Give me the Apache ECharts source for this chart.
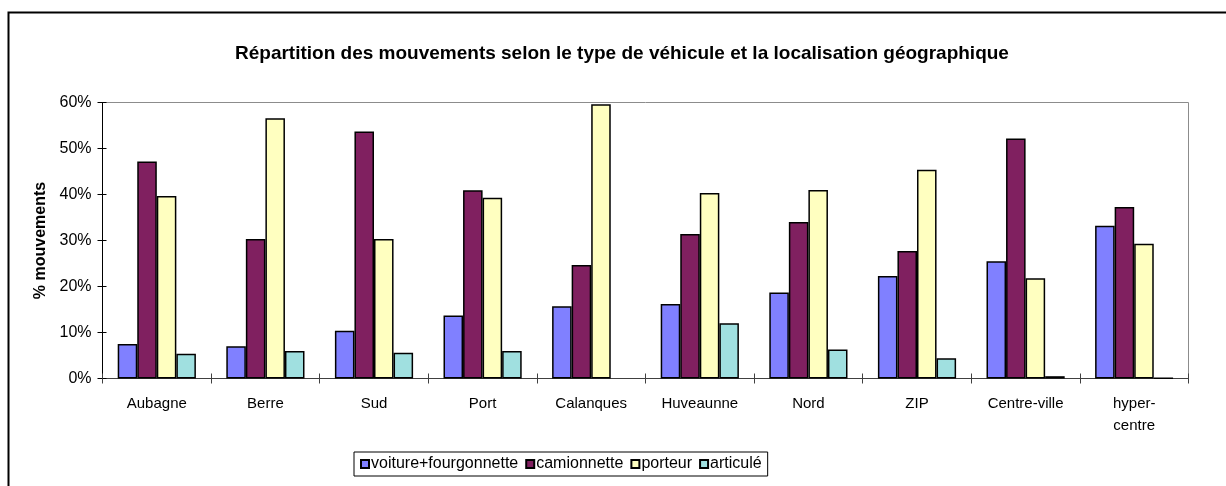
<!DOCTYPE html>
<html>
<head>
<meta charset="utf-8">
<script src="https://cdn.jsdelivr.net/npm/echarts@6/dist/echarts.min.js"></script>
<style>
  html, body { margin: 0; padding: 0; background: #fff; }
  #chart { width: 1226px; height: 486px; }
</style>
</head>
<body>
<div id="chart"></div>
<script>
// Zones géographiques
const zones = ['Aubagne', 'Berre', 'Sud', 'Port', 'Calanques', 'Huveaunne', 'Nord', 'ZIP', 'Centre-ville', 'hyper-\ncentre'];

// Part des mouvements (%) par type de véhicule
const voitureFourgonnette = [7.5, 7.0, 10.4, 13.7, 15.7, 16.2, 18.7, 22.3, 25.5, 33.2];
const camionnette         = [47.2, 30.3, 53.7, 40.9, 24.7, 31.4, 34.0, 27.7, 52.2, 37.3];
const porteur             = [39.7, 56.6, 30.3, 39.3, 59.6, 40.3, 41.0, 45.4, 21.8, 29.3];
const articule            = [5.4, 6.0, 5.6, 6.0, null, 12.0, 6.3, 4.4, 0.5, 0.1];

const yTicks = { min: 0, max: 60, interval: 10 };

const FONT = '"Liberation Sans", Arial, sans-serif';

function barSeries(name, data, color) {
  return {
    name: name,
    type: 'bar',
    data: data,
    barGap: '0%',
    barCategoryGap: '28%',
    itemStyle: { color: color, borderColor: '#000', borderWidth: 1.5 }
  };
}

const chart = echarts.init(document.getElementById('chart'), null, { renderer: 'canvas' });

chart.setOption({
  animation: false,
  backgroundColor: '#fff',
  textStyle: { fontFamily: FONT },
  title: {
    text: 'Répartition des mouvements selon le type de véhicule et la localisation géographique',
    left: 230,
    top: 39,
    textStyle: { fontFamily: FONT, fontSize: 19, fontWeight: 'bold', color: '#000' }
  },
  graphic: [{
    type: 'rect',
    shape: { x: 8.5, y: 12.5, width: 1300, height: 600 },
    style: { fill: 'none', stroke: '#000', lineWidth: 2 },
    silent: true,
    z: 100
  }],
  grid: {
    left: 102.5,
    right: 37.5,
    top: 102.5,
    bottom: 107.5,
    show: true,
    borderColor: '#8c8c8c',
    borderWidth: 1,
    backgroundColor: '#fff'
  },
  legend: {
    left: 354,
    top: 452,
    itemWidth: 8,
    itemHeight: 8,
    itemGap: 7,
    padding: [4, 6, 4, 6],
    borderColor: '#000',
    borderWidth: 1,
    icon: 'rect',
    textStyle: { fontFamily: FONT, fontSize: 16, color: '#000', padding: [0, 0, 0, -3] },
    data: ['voiture+fourgonnette', 'camionnette', 'porteur', 'articulé']
  },
  xAxis: [{
    type: 'category',
    data: zones,
    axisLine: { lineStyle: { color: '#404040', width: 1 } },
    axisTick: { show: true, length: 5, lineStyle: { color: '#404040' } },
    axisLabel: { fontFamily: FONT, fontSize: 15, color: '#000', margin: 14, lineHeight: 22, interval: 0 }
  }, {
    type: 'category',
    data: zones,
    position: 'bottom',
    axisLine: { show: false },
    axisTick: { show: true, inside: true, length: 5, lineStyle: { color: '#404040' } },
    axisLabel: { show: false }
  }],
  yAxis: [{
    type: 'value',
    min: yTicks.min,
    max: yTicks.max,
    interval: yTicks.interval,
    name: '% mouvements',
    nameLocation: 'middle',
    nameGap: 54,
    nameRotate: 90,
    nameTextStyle: { fontFamily: FONT, fontSize: 16, fontWeight: 'bold', color: '#000' },
    axisLine: { show: true, lineStyle: { color: '#000', width: 1 } },
    axisTick: { show: true, length: 5, lineStyle: { color: '#000' } },
    axisLabel: { fontFamily: FONT, fontSize: 16, color: '#000', margin: 11, formatter: '{value}%' },
    splitLine: { show: false }
  }, {
    type: 'value',
    position: 'left',
    min: yTicks.min,
    max: yTicks.max,
    interval: yTicks.interval,
    axisLine: { show: false },
    axisTick: { show: true, inside: true, length: 4, lineStyle: { color: '#000' } },
    axisLabel: { show: false },
    splitLine: { show: false }
  }],
  series: [
    barSeries('voiture+fourgonnette', voitureFourgonnette, '#8080ff'),
    barSeries('camionnette', camionnette, '#802060'),
    barSeries('porteur', porteur, '#ffffc0'),
    barSeries('articulé', articule, '#a0e0e0')
  ]
});
</script>
</body>
</html>
